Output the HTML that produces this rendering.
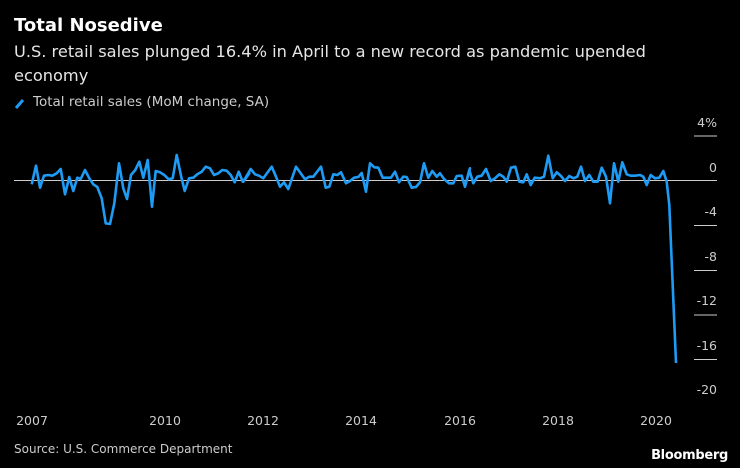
<!DOCTYPE html>
<html><head><meta charset="utf-8"><style>
html,body{margin:0;padding:0;background:#000;}
body{width:740px;height:468px;position:relative;overflow:hidden;font-family:"DejaVu Sans","Liberation Sans",sans-serif;color:#fff;}
.t{position:absolute;white-space:nowrap;}
</style></head><body>
<div class="t" style="left:14px;top:15px;font-size:18px;font-weight:bold;">Total Nosedive</div>
<div class="t" style="left:14px;top:40px;font-size:16.2px;line-height:24px;color:#e6e6e6;">U.S. retail sales plunged 16.4% in April to a new record as pandemic upended<br>economy</div>
<div class="t" style="left:33px;top:94px;font-size:13.5px;color:#ccc;">Total retail sales (MoM change, SA)</div>
<svg width="740" height="468" style="position:absolute;left:0;top:0" id="s">
<line x1="16" y1="108" x2="23" y2="100" stroke="#1e9cf5" stroke-width="3"/>
<line x1="14" y1="180.5" x2="717" y2="180.5" stroke="#ccc" stroke-width="1"/>
<g stroke="#ccc" stroke-width="1">
<line x1="694" y1="136" x2="717" y2="136"/>
<line x1="694" y1="225.5" x2="717" y2="225.5"/>
<line x1="694" y1="270.5" x2="717" y2="270.5"/>
<line x1="694" y1="315" x2="717" y2="315"/>
<line x1="694" y1="359.5" x2="717" y2="359.5"/>
</g>
<g fill="#ccc" font-size="12.5" text-anchor="end" font-family="DejaVu Sans,Liberation Sans,sans-serif">
<text x="717" y="127">4%</text>
<text x="717" y="172">0</text>
<text x="717" y="216">-4</text>
<text x="717" y="261">-8</text>
<text x="717" y="305">-12</text>
<text x="717" y="350">-16</text>
<text x="717" y="394">-20</text>
</g>
<g fill="#ccc" font-size="12.5" text-anchor="middle" font-family="DejaVu Sans,Liberation Sans,sans-serif">
<text x="32" y="425">2007</text>
<text x="165" y="425">2010</text>
<text x="263" y="425">2012</text>
<text x="361" y="425">2014</text>
<text x="460" y="425">2016</text>
<text x="558" y="425">2018</text>
<text x="656" y="425">2020</text>
</g>
<polyline id="p" fill="none" stroke="#1e9cf5" stroke-width="2.6" stroke-linejoin="round"/>
</svg>
<div class="t" style="left:14px;top:442px;font-size:12px;color:#ccc;">Source: U.S. Commerce Department</div>
<div class="t" style="right:12px;top:448px;font-size:13px;font-weight:bold;letter-spacing:-0.3px;">Bloomberg</div>
<script>
var a=[[35,118],[48,62],[60,128],[72,92],[85,90],[97,92],[110,85],[122,72],[135,148],[148,96],[160,138],[172,98],[182,102],[195,75],[208,100],[220,118],[232,126],[245,160],[257,235],[270,237],[283,175],[297,55],[310,130],[321,162],[333,90],[346,75],[358,50],[370,98],[383,45],[396,185],[407,78],[420,82],[433,90],[446,103],[458,100],[470,30],[483,92],[494,138],[507,100],[520,98],[532,88],[545,80],[557,65],[570,70],[582,90],[595,85],[607,75],[620,77],[632,90],[644,112],[656,80],[668,110],[688,85]];
var b=[[10,110],[32,72],[45,88],[57,92],[70,100],[95,65],[108,95],[120,125],[132,112],[145,132],[168,65],[182,85],[195,103],[208,95],[220,95],[243,65],[257,128],[268,125],[280,88],[292,90],[303,82],[318,115],[330,108],[342,98],[355,96],[365,84],[378,140],[390,55],[403,67],[415,68],[428,98],[440,98],[453,98],[465,80],[477,112],[490,95],[500,96],[515,128],[528,126],[540,112],[552,55],[565,98],[577,78],[590,95],[600,85],[612,102],[627,115],[640,115],[650,93],[665,92],[675,125],[690,70]];
var c=[[15,125],[28,75],[40,115],[52,95],[65,92],[78,72],[92,108],[105,100],[118,88],[130,95],[140,110],[153,68],[166,65],[178,110],[190,112],[200,88],[212,120],[224,98],[240,100],[252,95],[265,32],[278,100],[290,82],[302,92],[315,108],[328,93],[340,100],[352,95],[363,65],[375,108],[388,90],[400,110],[413,110],[425,68],[438,95],[450,175],[462,55],[475,110],[487,52],[500,88],[512,92],[525,92],[540,90],[550,95],[560,120],[572,90],[585,100],[598,98],[610,78],[620,110],[628,180]];
var pts=[];
a.forEach(function(p){pts.push((20+p[0]/3).toFixed(1)+","+(145+p[1]/3).toFixed(1));});
b.forEach(function(p){pts.push((240+p[0]/3).toFixed(1)+","+(145+p[1]/3).toFixed(1));});
c.forEach(function(p){pts.push((460+p[0]/3).toFixed(1)+","+(145+p[1]/3).toFixed(1));});
pts.push("676,363");
document.getElementById("p").setAttribute("points",pts.join(" "));
</script>
</body></html>
